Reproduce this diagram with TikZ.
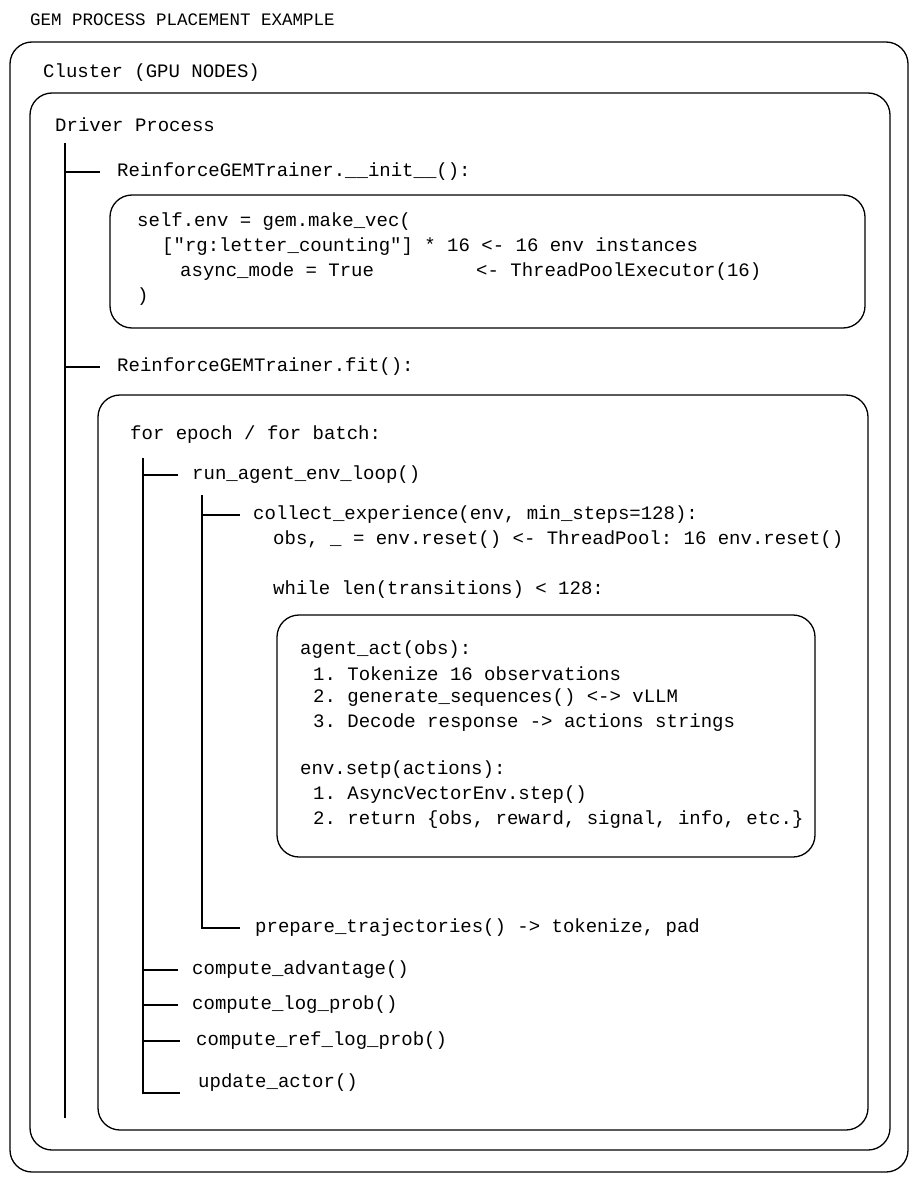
\documentclass[tikz,border=0pt]{standalone}
\usepackage{fontspec}
\setmonofont{Liberation Mono}
\begin{document}
\begin{tikzpicture}[x=1pt,y=-1pt,
  box/.style={draw,line width=1.3pt,rounded corners=22pt},
  ln/.style={line width=1.3pt},
  t/.style={anchor=west,inner sep=0pt,font=\ttfamily\fontsize{19}{22}\selectfont}]
\useasboundingbox (0,0) rectangle (919,1185);
\node[t,font=\ttfamily\fontsize{17.5}{20}\selectfont] (title) at (30,20) {GEM PROCESS PLACEMENT EXAMPLE};
\draw[box] (10,42) rectangle (908,1172);
\node[t] (cl) at (43,73) {Cluster (GPU NODES)};
\draw[box] (30,93) rectangle (890,1150);
\node[t] (dp) at (55,125) {Driver Process};
\coordinate (v1t) at (65,143); \coordinate (v1b) at (65,1118);
\draw[ln] (v1t) -- (v1b);
\node[t] (init) at (117,172) {ReinforceGEMTrainer.\_\_init\_\_():};
\coordinate (b1) at (65,172); \draw[ln] (b1) -- (100,172);
\draw[box] (110,195) rectangle (865,328);
\node[t] (c1) at (137,222) {self.env = gem.make\_vec(};
\node[t] (c2) at (162,247) {["rg:letter\_counting"] * 16 <- 16 env instances};
\node[t] (c3) at (180,272) {async\_mode = True};
\node[t] (c3b) at (476,272) {<- ThreadPoolExecutor(16)};
\node[t] (c4) at (137,297) {)};
\node[t] (fit) at (117,367) {ReinforceGEMTrainer.fit():};
\coordinate (b2) at (65,367); \draw[ln] (b2) -- (100,367);
\draw[box] (98,395) rectangle (868,1130);
\node[t] (fe) at (130,435) {for epoch / for batch:};
\coordinate (v2t) at (143,458); \coordinate (v2b) at (143,1093);
\draw[ln] (v2t) -- (v2b) -- (180,1093);
\node[t] (ra) at (192,475) {run\_agent\_env\_loop()};
\draw[ln] (143,475) -- (178,475);
\coordinate (v3t) at (202,495); \coordinate (v3b) at (202,928);
\draw[ln] (v3t) -- (v3b) -- (240,928);
\node[t] (ce) at (253,515) {collect\_experience(env, min\_steps=128):};
\draw[ln] (202,515) -- (240,515);
\node[t] (obs) at (273,540) {obs, \_ = env.reset() <- ThreadPool: 16 env.reset()};
\node[t] (wh) at (273,590) {while len(transitions) < 128:};
\draw[box] (277,615) rectangle (815,857);
\node[t] (a0) at (300,650) {agent\_act(obs):};
\node[t] (a1) at (313,674) {1. Tokenize 16 observations};
\node[t] (a2) at (313,698) {2. generate\_sequences() <-> vLLM};
\node[t] (a3) at (313,723) {3. Decode response -> actions strings};
\node[t] (e0) at (300,770) {env.setp(actions):};
\node[t] (e1) at (313,795) {1. AsyncVectorEnv.step()};
\node[t] (e2) at (313,820) {2. return \{obs, reward, signal, info, etc.\}};
\node[t] (pt) at (255,928) {prepare\_trajectories() -> tokenize, pad};
\node[t] (adv) at (192,970) {compute\_advantage()};
\draw[ln] (143,970) -- (178,970);
\node[t] (lp) at (192,1005) {compute\_log\_prob()};
\draw[ln] (143,1005) -- (178,1005);
\node[t] (rlp) at (196,1041) {compute\_ref\_log\_prob()};
\draw[ln] (143,1041) -- (180,1041);
\node[t] (ua) at (198,1083) {update\_actor()};
\end{tikzpicture}
\end{document}
